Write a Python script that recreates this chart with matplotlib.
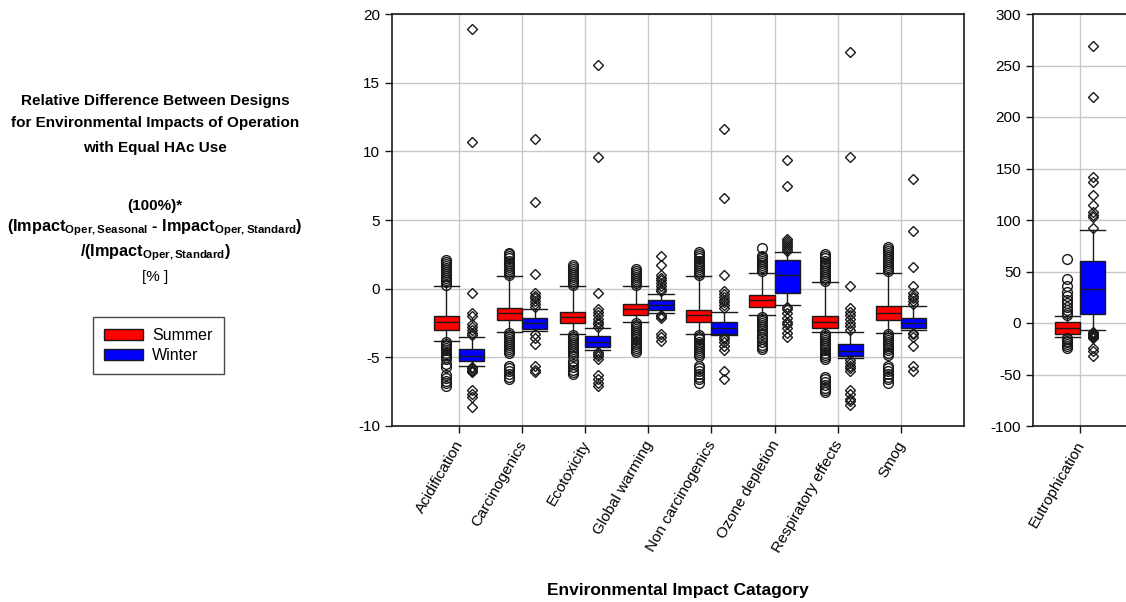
import matplotlib.pyplot as plt
from matplotlib.patches import Patch
from matplotlib.transforms import ScaledTranslation

plt.rcParams['font.family'] = ['Liberation Sans', 'DejaVu Sans']
plt.rcParams['mathtext.fontset'] = 'custom'
plt.rcParams['mathtext.rm'] = 'Liberation Sans'
plt.rcParams['mathtext.bf'] = 'Liberation Sans:bold'
plt.rcParams['axes.unicode_minus'] = False

# --- data ------------------------------------------------------------------
categories = ["Acidification", "Carcinogenics", "Ecotoxicity", "Global warming",
              "Non carcinogenics", "Ozone depletion", "Respiratory effects", "Smog"]

summer_med = [-2.45, -1.77, -2.06, -1.48, -1.89, -0.85, -2.40, -1.77]
summer_q1 = [-2.99, -2.31, -2.50, -1.89, -2.45, -1.31, -2.89, -2.31]
summer_q3 = [-1.97, -1.41, -1.70, -1.09, -1.53, -0.44, -1.97, -1.29]
summer_lo = [-3.83, -3.13, -3.28, -2.43, -3.30, -1.94, -3.18, -3.23]
summer_hi = [0.22, 0.90, 0.17, 0.17, 0.90, 1.14, 0.46, 1.14]
summer_fliers = [
    [0.3, 0.45, 0.6, 0.75, 0.9, 1.05, 1.2, 1.35, 1.5, 1.65, 1.8, 1.95, 2.1,
     -3.9, -4.05, -4.2, -4.35, -4.5, -4.65, -4.8, -4.95, -5.1, -5.5, -5.7,
     -6.3, -6.5, -6.7, -6.9, -7.1],
    [1.0, 1.15, 1.3, 1.45, 1.6, 1.75, 1.9, 2.05, 2.2, 2.35, 2.5, 2.6,
     -3.2, -3.35, -3.5, -3.65, -3.8, -3.95, -4.1, -4.25, -4.4, -4.55, -4.7,
     -5.6, -5.8, -6.0, -6.2, -6.4, -6.6],
    [0.25, 0.4, 0.55, 0.7, 0.85, 1.0, 1.15, 1.3, 1.45, 1.6, 1.75,
     -3.35, -3.5, -3.65, -3.8, -3.95, -4.1, -4.25, -4.4, -4.55, -4.7, -4.9,
     -5.3, -5.5, -5.7, -5.9, -6.1, -6.2],
    [0.25, 0.4, 0.55, 0.7, 0.85, 1.0, 1.15, 1.3, 1.45,
     -2.5, -2.65, -2.8, -2.95, -3.1, -3.25, -3.4, -3.55, -3.7, -3.85, -4.0,
     -4.15, -4.3, -4.45, -4.6],
    [1.0, 1.15, 1.3, 1.45, 1.6, 1.75, 1.9, 2.05, 2.2, 2.35, 2.5, 2.65,
     -3.4, -3.55, -3.7, -3.85, -4.0, -4.15, -4.3, -4.45, -4.6, -4.75, -4.9,
     -5.6, -5.8, -6.0, -6.2, -6.4, -6.6, -6.9],
    [1.25, 1.4, 1.55, 1.7, 1.85, 2.0, 2.15, 2.3, 2.4, 2.95,
     -2.05, -2.2, -2.35, -2.5, -2.65, -2.8, -2.95, -3.1, -3.3, -3.5, -3.7,
     -3.9, -4.1, -4.25, -4.4],
    [0.55, 0.7, 0.85, 1.0, 1.15, 1.3, 1.45, 1.6, 1.75, 1.9, 2.05, 2.2, 2.35, 2.5,
     -3.3, -3.45, -3.6, -3.75, -3.9, -4.05, -4.2, -4.35, -4.5, -4.65, -4.8,
     -4.95, -5.1, -6.4, -6.6, -6.8, -7.0, -7.2, -7.4, -7.5],
    [1.25, 1.4, 1.55, 1.7, 1.85, 2.0, 2.15, 2.3, 2.45, 2.6, 2.75, 2.9, 3.0,
     -3.3, -3.45, -3.6, -3.75, -3.9, -4.05, -4.2, -4.35, -4.5, -4.65, -4.8,
     -5.6, -5.8, -6.0, -6.2, -6.4, -6.6, -6.9],
]

winter_med = [-4.88, -2.50, -3.91, -1.21, -2.86, 1.00, -4.56, -2.50]
winter_q1 = [-5.29, -2.91, -4.25, -1.58, -3.28, -0.32, -4.93, -2.86]
winter_q3 = [-4.37, -2.14, -3.47, -0.85, -2.45, 2.06, -4.05, -2.14]
winter_lo = [-5.60, -3.10, -4.45, -1.77, -3.35, -1.19, -5.05, -3.03]
winter_hi = [-3.50, -1.48, -2.90, -0.37, -1.70, 2.64, -3.16, -1.24]
winter_fliers = [
    [18.9, 10.7, -0.3, -1.8, -2.0, -2.6, -2.8, -3.0, -3.2, -3.35,
     -5.7, -5.8, -5.9, -6.0, -6.1, -7.4, -7.7, -7.9, -8.6],
    [10.9, 6.3, 1.1, -0.3, -0.5, -0.7, -0.9, -1.1, -1.3,
     -3.3, -3.6, -4.0, -5.6, -5.9, -6.1],
    [16.3, 9.6, -0.3, -1.5, -1.7, -1.9, -2.2, -2.4, -2.6, -2.8,
     -4.6, -4.75, -4.9, -5.1, -6.3, -6.6, -6.9, -7.1],
    [2.4, 1.7, 1.0, 0.8, 0.6, 0.4, 0.2, 0.0, -0.2,
     -1.9, -2.0, -2.1, -3.3, -3.5, -3.8],
    [11.6, 6.6, 1.0, -0.2, -0.4, -0.6, -0.8, -1.0, -1.2, -1.4,
     -3.5, -3.7, -3.9, -4.2, -4.5, -6.0, -6.6],
    [9.4, 7.5, 2.75, 2.9, 3.05, 3.2, 3.35, 3.5, 3.6,
     -1.3, -1.5, -1.8, -2.1, -2.4, -2.6, -2.9, -3.2, -3.5],
    [17.2, 9.6, 0.2, -1.4, -1.7, -1.9, -2.2, -2.5, -2.7, -3.0,
     -5.2, -5.4, -5.6, -5.8, -6.0, -7.4, -7.7, -8.0, -8.2, -8.5],
    [8.0, 4.2, 1.6, 0.2, -0.3, -0.5, -0.7, -0.9, -1.1,
     -3.2, -3.3, -3.5, -4.2, -5.6, -6.0],
]

# Eutrophication is on its own scale
eutro_label = "Eutrophication"
eutro_summer = dict(med=-4.9, q1=-10.7, q3=0.6, whislo=-13.6, whishi=6.5,
                    fliers=[62, 43, 36, 30, 26, 22, 19, 16, 13, 10, 8,
                            -15, -16, -17, -18, -20, -22, -24])
eutro_winter = dict(med=33, q1=8.7, q3=60, whislo=-6.5, whishi=90,
                    fliers=[269, 219, 142, 137, 124, 115, 108, 105, 103, 92,
                            -9, -10, -11, -12, -13, -14, -15, -24, -27, -32])

title_lines = ["Relative Difference Between Designs",
               "for Environmental Impacts of Operation",
               "with Equal HAc Use"]

# --- styles ------------------------------------------------------------------
RED = "#ff0000"
BLUE = "#0000ff"
GRID = "#c8c8c8"
BOX_W = 0.4


def box_styles(color, marker, ms):
    return dict(
        boxprops=dict(facecolor=color, edgecolor="#1a1a1a", linewidth=1.0),
        medianprops=dict(color="#1a1a1a", linewidth=1.0),
        whiskerprops=dict(color="#1a1a1a", linewidth=1.0),
        capprops=dict(color="#1a1a1a", linewidth=1.0),
        flierprops=dict(marker=marker, markersize=ms, markerfacecolor="none",
                        markeredgecolor="#1a1a1a", markeredgewidth=1.0,
                        linestyle="none"),
    )


def style_axes(ax):
    ax.set_axisbelow(True)
    ax.grid(True, color=GRID, linewidth=1.0)
    for s in ax.spines.values():
        s.set_color("#1a1a1a")
        s.set_linewidth(1.2)
    ax.tick_params(direction="out", length=5, width=1.0, labelsize=11,
                   color="#1a1a1a")


fig = plt.figure(figsize=(11.26, 6.02), dpi=100)

ax = fig.add_axes([392 / 1126, 1 - 426 / 602, 572 / 1126, 412 / 602])
pos = list(range(1, len(categories) + 1))

s_stats = [dict(med=summer_med[i], q1=summer_q1[i], q3=summer_q3[i],
                whislo=summer_lo[i], whishi=summer_hi[i],
                fliers=summer_fliers[i]) for i in range(len(categories))]
w_stats = [dict(med=winter_med[i], q1=winter_q1[i], q3=winter_q3[i],
                whislo=winter_lo[i], whishi=winter_hi[i],
                fliers=winter_fliers[i]) for i in range(len(categories))]

ax.bxp(s_stats, positions=[p - BOX_W / 2 for p in pos], widths=BOX_W,
       capwidths=BOX_W, patch_artist=True, manage_ticks=False,
       **box_styles(RED, "o", 7))
ax.bxp(w_stats, positions=[p + BOX_W / 2 for p in pos], widths=BOX_W,
       capwidths=BOX_W, patch_artist=True, manage_ticks=False,
       **box_styles(BLUE, "D", 5.5))

ax.set_xlim(-0.06, 9.0)
ax.set_ylim(-10, 20)
ax.set_yticks([-10, -5, 0, 5, 10, 15, 20])
ax.set_xticks(pos)
ax.set_xticklabels(categories, rotation=60, ha="right", va="center",
                   rotation_mode="anchor")
style_axes(ax)

# right panel
ax2 = fig.add_axes([1033 / 1126, 1 - 426 / 602, 93 / 1126, 412 / 602])
ax2.bxp([eutro_summer], positions=[1 - BOX_W / 2], widths=BOX_W,
        capwidths=BOX_W, patch_artist=True, manage_ticks=False,
        **box_styles(RED, "o", 7))
ax2.bxp([eutro_winter], positions=[1 + BOX_W / 2], widths=BOX_W,
        capwidths=BOX_W, patch_artist=True, manage_ticks=False,
        **box_styles(BLUE, "D", 5.5))
ax2.set_xlim(1 - 47 / 63.14, 1 + 93 / 63.14 - 47 / 63.14)
ax2.set_ylim(-100, 300)
ax2.set_yticks([-100, -50, 0, 50, 100, 150, 200, 250, 300])
ax2.set_xticks([1])
ax2.set_xticklabels([eutro_label], rotation=60, ha="right", va="center",
                    rotation_mode="anchor")
style_axes(ax2)
ax2.spines["right"].set_visible(False)

# nudge rotated labels a bit lower
for a in (ax, ax2):
    off = ScaledTranslation(1 / 72, -3 / 72, fig.dpi_scale_trans)
    for lbl in a.get_xticklabels():
        lbl.set_transform(lbl.get_transform() + off)

fig.text(678 / 1126, 1 - 590 / 602, "Environmental Impact Catagory",
         ha="center", va="center", fontsize=12.5, fontweight="bold")

# left annotation block
cx = 155 / 1126
for y, line in zip([101, 123, 148], title_lines):
    fig.text(cx, 1 - y / 602, line, ha="center", va="center",
             fontsize=11, fontweight="bold")
fig.text(cx, 1 - 206 / 602, "(100%)*", ha="center", va="center",
         fontsize=11, fontweight="bold")
fig.text(cx, 1 - 228 / 602,
         r"(Impact$_{\mathbf{Oper,Seasonal}}$ - Impact$_{\mathbf{Oper,Standard}}$)",
         ha="center", va="center", fontsize=11.7, fontweight="bold")
fig.text(cx, 1 - 253 / 602, r"/(Impact$_{\mathbf{Oper,Standard}}$)",
         ha="center", va="center", fontsize=11.7, fontweight="bold")
fig.text(cx, 1 - 277 / 602, "[% ]", ha="center", va="center", fontsize=11)

handles = [Patch(facecolor=RED, edgecolor="#1a1a1a", label="Summer"),
           Patch(facecolor=BLUE, edgecolor="#1a1a1a", label="Winter")]
leg = fig.legend(handles=handles, loc="upper left",
                 bbox_to_anchor=(93 / 1126, 1 - 317 / 602), fontsize=11.5,
                 frameon=True, fancybox=False, handlelength=2.4,
                 handleheight=0.75, borderpad=0.7, labelspacing=0.3,
                 handletextpad=0.6, borderaxespad=0)
leg.get_frame().set_edgecolor("#1a1a1a")
leg.get_frame().set_linewidth(1.0)

fig.savefig("out.png", dpi=100)
